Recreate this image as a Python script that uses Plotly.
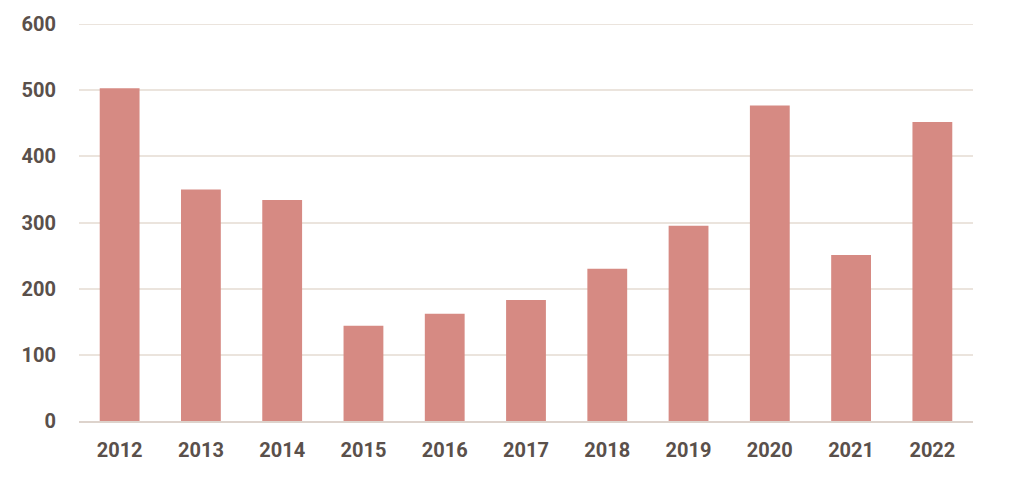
import plotly.graph_objects as go

years = ["2012", "2013", "2014", "2015", "2016", "2017", "2018", "2019", "2020", "2021", "2022"]
values = [503, 350, 334, 144, 162, 183, 230, 295, 477, 251, 452]
y_ticks = [0, 100, 200, 300, 400, 500, 600]

text_color = "#5a504b"
grid_color = "#ebe4dd"

fig = go.Figure()
fig.add_trace(go.Bar(
    x=years,
    y=values,
    marker=dict(color="#d68a83", line_width=0),
))

# plotly drops the gridline sitting on the top edge, so draw it by hand
fig.add_hline(y=y_ticks[-1], line_color=grid_color, line_width=2, layer="below")

fig.update_layout(
    width=1016,
    height=471,
    margin=dict(l=71, r=51, t=16, b=58),
    plot_bgcolor="white",
    paper_bgcolor="white",
    bargap=0.51,
    showlegend=False,
    font=dict(family="Roboto", size=20, color=text_color),
    xaxis=dict(
        type="category",
        automargin=False,
        showgrid=False,
        showline=True,
        linecolor="#ddd3cc",
        linewidth=2,
        ticks="",
        tickfont=dict(family="Roboto", size=20, color=text_color, weight="bold"),
        ticklabelstandoff=10,
    ),
    yaxis=dict(
        range=[0, 600],
        automargin=False,
        tickvals=y_ticks,
        showgrid=True,
        gridcolor=grid_color,
        gridwidth=2,
        zeroline=False,
        ticks="",
        tickfont=dict(family="Roboto", size=20, color=text_color, weight="bold"),
        ticklabelstandoff=22,
    ),
)

fig.write_html("out.html")
